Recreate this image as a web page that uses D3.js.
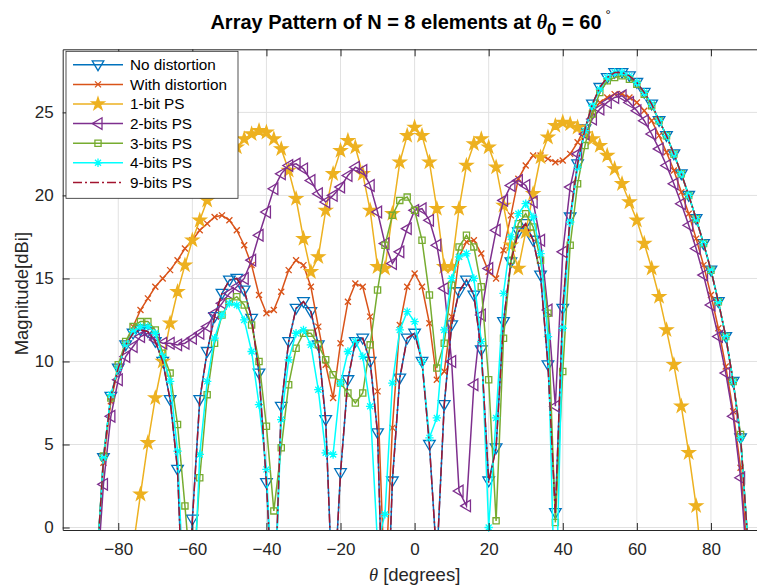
<!DOCTYPE html>
<html>
<head>
<meta charset="utf-8">
<title>Array Pattern</title>
<script src="https://d3js.org/d3.v7.min.js"></script>
<style>
  body { margin: 0; background: #fff; }
  svg { display: block; font-family: "Liberation Sans", Arial, sans-serif; }
</style>
</head>
<body>
<div id="chart"></div>
<script>

// scan angles (degrees)
const theta = [-90, -88, -86, -84, -82, -80, -78, -76, -74, -72,
  -70, -68, -66, -64, -62, -60, -58, -56, -54, -52,
  -50, -48, -46, -44, -42, -40, -38, -36, -34, -32,
  -30, -28, -26, -24, -22, -20, -18, -16, -14, -12,
  -10, -8, -6, -4, -2, 0, 2, 4, 6, 8,
  10, 12, 14, 16, 18, 20, 22, 24, 26, 28,
  30, 32, 34, 36, 38, 40, 42, 44, 46, 48,
  50, 52, 54, 56, 58, 60, 62, 64, 66, 68,
  70, 72, 74, 76, 78, 80, 82, 84, 86, 88,
  90];

// magnitudes in dBi
const noDistortion = [-12, -8, -3, 4.2, 7.9, 9.6, 11.0, 11.7, 11.9, 11.8,
  11.2, 10.0, 7.7, 3.5, -8, 0.5, 7.7, 10.6, 12.7, 14.1,
  14.9, 15.0, 14.3, 12.6, 9.3, 2.7, -6, 7.3, 11.2, 13.2,
  13.6, 13.0, 11.0, 6.5, -5, 3.3, 8.9, 11.2, 11.4, 10.0,
  5.7, -10, 2.8, 9.0, 11.4, 11.7, 10.0, 5.0, -2, 7.4,
  12.2, 14.2, 14.9, 14.0, 10.7, 2.8, 4.8, 12.4, 16.0, 17.8,
  18.3, 17.3, 15.2, 9.8, 0.9, 13.2, 18.7, 21.9, 24.0, 25.5,
  26.5, 27.1, 27.4, 27.4, 27.2, 26.8, 26.2, 25.5, 24.5, 23.6,
  22.5, 21.3, 20.0, 18.6, 17.1, 15.5, 13.6, 11.5, 8.8, 5.4,
  -1.0];

const withDistortion = [-12, -8, -3, 3.9, 7.6, 9.6, 11.0, 12.1, 13.1, 13.8,
  14.5, 15.0, 15.5, 16.1, 16.8, 17.3, 17.9, 18.3, 18.7, 18.8,
  18.5, 17.9, 17.0, 15.8, 14.0, 12.9, 13.1, 14.2, 15.5, 16.1,
  15.8, 14.5, 12.1, 9.8, 7.8, 11.1, 13.6, 14.7, 14.5, 12.7,
  8.2, -4, 6.0, 12.2, 14.5, 15.3, 14.5, 12.3, 8.9, 9.4,
  12.7, 16.3, 17.2, 17.3, 16.5, 15.4, 15.0, 16.7, 18.8, 21.0,
  21.8, 22.4, 22.4, 22.2, 22.0, 22.1, 22.5, 23.2, 24.1, 25.0,
  25.6, 25.9, 26.1, 26.1, 25.9, 25.6, 25.1, 24.5, 23.6, 22.6,
  21.5, 20.2, 18.9, 17.4, 15.8, 14.0, 12.0, 9.7, 7.0, 3.6,
  -2];

const bit1 = [-20, -16, -13, -10, -7.5, -5.5, -3.3, -1.2, 2.0, 5.1,
  7.8, 10.0, 12.3, 14.2, 15.8, 17.3, 18.5, 19.7, 20.7, 21.6,
  22.3, 22.9, 23.4, 23.7, 23.9, 23.8, 23.4, 22.8, 21.5, 19.8,
  17.4, 15.4, 16.3, 19.1, 21.3, 22.7, 23.3, 22.9, 21.3, 19.1,
  15.7, 15.6, 18.9, 22.0, 23.6, 24.1, 23.6, 22.0, 19.2, 15.7,
  15.7, 19.2, 21.8, 23.1, 23.4, 22.9, 21.7, 19.4, 17.0, 15.6,
  17.8, 20.1, 22.3, 23.5, 24.2, 24.4, 24.3, 24.1, 23.7, 23.4,
  23.0, 22.4, 21.6, 20.7, 19.6, 18.5, 17.1, 15.6, 13.9, 11.9,
  9.8, 7.3, 4.5, 1.3, -3.4, -8, -12, -15, -18, -20,
  -22];

const bit2 = [-12, -8, -4, 2.6, 6.7, 8.9, 10.3, 10.9, 11.5, 11.7,
  11.3, 11.1, 11.1, 11.0, 11.1, 11.4, 11.7, 12.1, 12.9, 13.5,
  14.1, 14.5, 15.0, 16.1, 17.6, 19.0, 20.4, 21.3, 21.8, 21.9,
  21.6, 20.9, 20.1, 19.6, 20.0, 20.5, 21.2, 21.7, 21.5, 20.6,
  19.0, 17.1, 15.9, 16.6, 18.0, 19.1, 19.2, 18.5, 17.0, 14.4,
  10.0, 2.2, 1.3, 8.6, 12.8, 15.6, 17.9, 19.7, 20.6, 20.9,
  20.6, 19.6, 17.3, 13.1, 7.3, 16.6, 20.5, 22.5, 23.7, 24.6,
  25.2, 25.6, 25.9, 26.0, 25.6, 25.1, 24.5, 23.7, 22.8, 21.8,
  20.7, 19.5, 18.2, 16.8, 15.2, 13.4, 11.5, 9.3, 6.7, 3.0,
  -3];

const bit3 = [-12, -8, -3, 4.3, 7.8, 9.8, 11.2, 12.1, 12.4, 12.4,
  11.9, 10.5, 9.3, 6.2, 1.3, -4, 3.0, 8.0, 11.1, 12.8,
  13.6, 13.9, 13.4, 12.2, 10.0, 6.1, 1.0, 4.8, 8.6, 10.8,
  11.7, 11.7, 11.0, 10.1, 9.2, 8.7, 8.1, 7.5, 8.1, 11.0,
  14.3, 17.0, 18.8, 19.7, 19.9, 19.1, 17.3, 14.0, 9.6, 11.1,
  14.6, 16.9, 17.6, 16.9, 14.5, 8.9, 0.4, 11.4, 16.1, 18.3,
  18.9, 18.1, 16.1, 12.9, 0.3, 9.4, 17.0, 20.7, 23.0, 24.9,
  26.2, 26.9, 27.1, 27.2, 27.0, 26.7, 26.1, 25.4, 24.5, 23.6,
  22.5, 21.3, 20.0, 18.6, 17.1, 15.5, 13.6, 11.5, 8.8, 5.6,
  -1];

const bit4 = [-12, -8, -3, 4.2, 8.0, 9.6, 11.0, 11.8, 12.1, 12.1,
  11.7, 10.3, 8.8, 4.6, -6, -6, 4.4, 8.8, 11.4, 12.8,
  13.5, 13.4, 12.5, 10.6, 7.4, 3.5, -6, 6.5, 10.1, 11.7,
  11.9, 11.0, 8.3, 4.5, 4.4, 8.7, 10.6, 11.2, 10.3, 7.3,
  -1, 0.8, 8.7, 11.9, 13.0, 12.4, 10.0, 5.4, 6.6, 11.9,
  15.0, 16.3, 16.5, 15.0, 11.2, 0.0, 6.6, 14.1, 17.5, 18.9,
  19.5, 18.7, 16.5, 11.5, -6, 12.0, 18.4, 21.7, 23.9, 25.4,
  26.4, 27.1, 27.4, 27.4, 27.2, 26.8, 26.2, 25.5, 24.5, 23.6,
  22.5, 21.3, 20.0, 18.6, 17.1, 15.5, 13.6, 11.5, 8.8, 5.4,
  -1];

const bit9 = [-12, -8, -3, 4.1, 7.9, 9.6, 11.0, 11.7, 11.9, 11.8,
  11.2, 10.0, 7.7, 3.5, -8, 0.4, 7.7, 10.6, 12.7, 14.1,
  14.9, 15.0, 14.3, 12.6, 9.3, 2.7, -6, 7.3, 11.2, 13.2,
  13.6, 13.0, 11.0, 6.4, -5, 3.3, 8.9, 11.2, 11.4, 10.0,
  5.7, -10, 2.8, 9.0, 11.4, 11.7, 10.0, 5.0, -2, 7.4,
  12.2, 14.2, 14.9, 14.0, 10.7, 2.7, 4.8, 12.4, 16.0, 17.8,
  18.3, 17.3, 15.2, 9.8, 0.8, 13.2, 18.7, 21.9, 24.0, 25.5,
  26.5, 27.1, 27.4, 27.4, 27.2, 26.8, 26.2, 25.5, 24.5, 23.6,
  22.5, 21.3, 20.0, 18.6, 17.1, 15.5, 13.6, 11.5, 8.8, 5.4,
  -1.0];

const seriesNames = ["No distortion", "With distortion", "1-bit PS", "2-bits PS",
  "3-bits PS", "4-bits PS", "9-bits PS"];
const xTicks = [-80, -60, -40, -20, 0, 20, 40, 60, 80];
const yTicks = [0, 5, 10, 15, 20, 25];

// marker shapes, centred on 0,0
const markers = {
  triDown: "M-5.8,-4L5.8,-4L0,5.8Z",
  cross: "M-3,-3L3,3M-3,3L3,-3",
  star: d3.symbol(d3.symbolStar, 50)(),
  triLeft: "M-5.8,0L4,-5.8L4,5.8Z",
  square: "M-3.1,-3.1h6.2v6.2h-6.2Z",
  asterisk: "M-4.2,0H4.2M0,-4.2V4.2M-3,-3L3,3M-3,3L3,-3",
  none: null
};

const series = [
  {name: seriesNames[0], values: noDistortion, color: "#0072BD", marker: "triDown", fill: "none"},
  {name: seriesNames[1], values: withDistortion, color: "#D95319", marker: "cross", fill: "none"},
  {name: seriesNames[2], values: bit1, color: "#EDB120", marker: "star", fill: "#EDB120"},
  {name: seriesNames[3], values: bit2, color: "#7E2F8E", marker: "triLeft", fill: "none"},
  {name: seriesNames[4], values: bit3, color: "#77AC30", marker: "square", fill: "none"},
  {name: seriesNames[5], values: bit4, color: "#00FFFF", marker: "asterisk", fill: "none"},
  {name: seriesNames[6], values: bit9, color: "#A2142F", marker: "none", fill: "none", dash: "9,3,2,3"}
];

const W = 757, H = 585;
const plotL = 62.7, plotR = 766.5, plotT = 49.3, plotB = 530;

const x = d3.scaleLinear().domain([-95, 95]).range([plotL, plotR]);
const y = d3.scaleLinear().domain([-0.15, 28.8]).range([plotB, plotT]);

const svg = d3.select("#chart").append("svg")
    .attr("width", W)
    .attr("height", H);

svg.append("rect").attr("width", W).attr("height", H).attr("fill", "#fff");

// grid
const grid = svg.append("g").attr("stroke", "#e1e1e1").attr("stroke-width", 1);
grid.selectAll("line.gx").data(xTicks).enter().append("line")
    .attr("x1", d => x(d)).attr("x2", d => x(d))
    .attr("y1", plotT).attr("y2", plotB);
grid.selectAll("line.gy").data(yTicks).enter().append("line")
    .attr("x1", plotL).attr("x2", plotR)
    .attr("y1", d => y(d)).attr("y2", d => y(d));

svg.append("clipPath").attr("id", "plotclip")
  .append("rect")
    .attr("x", plotL).attr("y", plotT)
    .attr("width", plotR - plotL).attr("height", plotB - plotT);

const line = d3.line()
    .x((d, i) => x(theta[i]))
    .y(d => y(d));

series.forEach(function(s) {
    svg.append("path")
        .datum(s.values)
        .attr("clip-path", "url(#plotclip)")
        .attr("fill", "none")
        .attr("stroke", s.color)
        .attr("stroke-width", 1.5)
        .attr("stroke-dasharray", s.dash || null)
        .attr("d", line);

    if (markers[s.marker]) {
        const pts = s.values
            .map((v, i) => ({t: theta[i], v: v}))
            .filter(p => p.v >= y.domain()[0] && p.v <= y.domain()[1]);
        svg.append("g").selectAll("path")
            .data(pts)
            .enter()
            .append("path")
            .attr("transform", p => "translate(" + x(p.t) + "," + y(p.v) + ")")
            .attr("d", markers[s.marker])
            .attr("fill", s.fill)
            .attr("stroke", s.color)
            .attr("stroke-width", 1.3);
    }
});

// axes, ticks pointing inwards
const axisColor = "#262626";
const xAxis = d3.axisBottom(x).tickValues(xTicks).tickSizeInner(-7).tickSizeOuter(0).tickPadding(13);
const xAxisTop = d3.axisTop(x).tickValues(xTicks).tickSizeInner(-7).tickSizeOuter(0).tickFormat("");
const yAxis = d3.axisLeft(y).tickValues(yTicks).tickSizeInner(-7).tickSizeOuter(0).tickPadding(9);

function styleAxis(g) {
    g.select(".domain").attr("stroke", axisColor);
    g.selectAll(".tick line").attr("stroke", axisColor);
    g.selectAll(".tick text")
        .attr("fill", axisColor)
        .style("font-size", "17px")
        .style("font-family", "'Liberation Sans', Arial, sans-serif");
}

svg.append("g").attr("transform", "translate(0," + plotB + ")").call(xAxis).call(styleAxis);
svg.append("g").attr("transform", "translate(0," + plotT + ")").call(xAxisTop).call(styleAxis);
svg.append("g").attr("transform", "translate(" + plotL + ",0)").call(yAxis).call(styleAxis);

// title
const title = svg.append("text")
    .attr("x", (plotL + plotR) / 2 - 4)
    .attr("y", 29)
    .attr("text-anchor", "middle")
    .attr("font-weight", "bold")
    .attr("font-size", "20px")
    .attr("fill", "#000");
title.append("tspan").text("Array Pattern of N = 8 elements at ");
title.append("tspan").attr("font-style", "italic").attr("font-family", "'Liberation Serif', serif").text("θ");
title.append("tspan").attr("dy", 6).attr("font-size", "17px").text("0");
title.append("tspan").attr("dy", -6).text(" = 60");
title.append("tspan").attr("dy", -10).attr("dx", 4).attr("font-size", "13px").attr("font-weight", "normal").text("°");

// axis labels
const xl = svg.append("text")
    .attr("x", (plotL + plotR) / 2)
    .attr("y", 581)
    .attr("text-anchor", "middle")
    .attr("font-size", "18.5px")
    .attr("fill", axisColor);
xl.append("tspan").attr("font-style", "italic").attr("font-family", "'Liberation Serif', serif").text("θ");
xl.append("tspan").text(" [degrees]");

svg.append("text")
    .attr("transform", "translate(28," + ((plotT + plotB) / 2 + 4) + ") rotate(-90)")
    .attr("text-anchor", "middle")
    .attr("font-size", "18.5px")
    .attr("fill", axisColor)
    .text("Magnitude[dBi]");

// legend
const lg = svg.append("g").attr("transform", "translate(66,51.3)");
lg.append("rect")
    .attr("width", 172).attr("height", 147)
    .attr("fill", "#fff")
    .attr("stroke", axisColor)
    .attr("stroke-width", 0.8);

series.forEach(function(s, i) {
    const cy = 13.5 + i * 19.6;
    const row = lg.append("g");
    row.append("line")
        .attr("x1", 7).attr("x2", 57)
        .attr("y1", cy).attr("y2", cy)
        .attr("stroke", s.color)
        .attr("stroke-width", 1.5)
        .attr("stroke-dasharray", s.dash || null);
    if (markers[s.marker]) {
        row.append("path")
            .attr("transform", "translate(32," + cy + ")")
            .attr("d", markers[s.marker])
            .attr("fill", s.fill)
            .attr("stroke", s.color)
            .attr("stroke-width", 1.3);
    }
    row.append("text")
        .attr("x", 64)
        .attr("y", cy + 5.5)
        .attr("font-size", "15.3px")
        .attr("fill", "#000")
        .text(s.name);
});

</script>
</body>
</html>
